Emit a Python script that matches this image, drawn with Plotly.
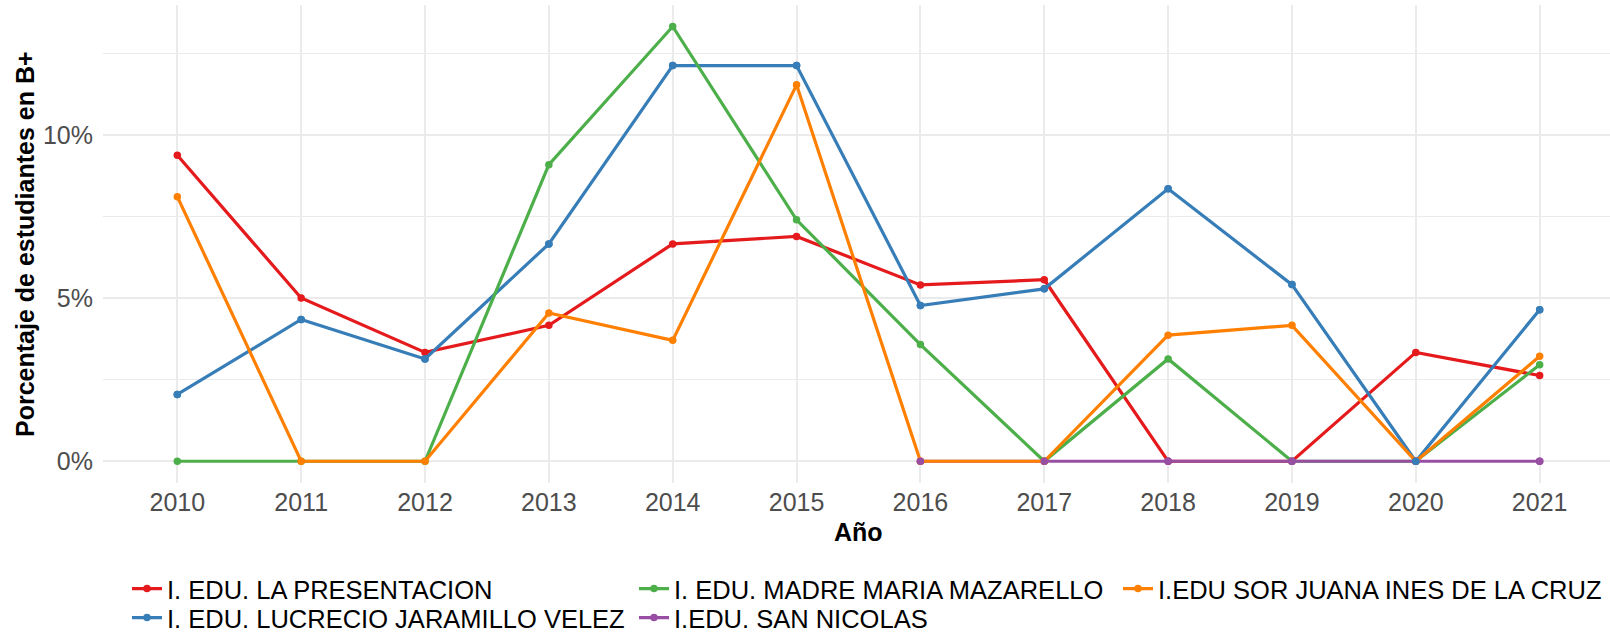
import plotly.graph_objects as go

years = [2010, 2011, 2012, 2013, 2014, 2015, 2016, 2017, 2018, 2019, 2020, 2021]
years_sn = [2016, 2017, 2018, 2019, 2020, 2021]

names = [
    "I. EDU. LA PRESENTACION",
    "I. EDU. LUCRECIO JARAMILLO VELEZ",
    "I. EDU. MADRE MARIA MAZARELLO",
    "I.EDU. SAN NICOLAS",
    "I.EDU SOR JUANA INES DE LA CRUZ",
]
colors = ["#E41A1C", "#377EB8", "#4DAF4A", "#984EA3", "#FF7F00"]

presentacion = [9.39, 5.01, 3.34, 4.17, 6.67, 6.90, 5.41, 5.57, 0, 0, 3.34, 2.63]
lucrecio = [2.05, 4.35, 3.14, 6.67, 12.14, 12.14, 4.78, 5.29, 8.36, 5.42, 0, 4.65]
mazarello = [0, 0, 0, 9.10, 13.34, 7.41, 3.58, 0, 3.14, 0, 0, 2.96]
san_nicolas = [0, 0, 0, 0, 0, 0]
sor_juana = [8.12, 0, 0, 4.55, 3.71, 11.55, 0, 0, 3.87, 4.17, 0, 3.22]

ytick_vals = [0, 5, 10]
ytick_text = ["0%", "5%", "10%"]
yminor_vals = [2.5, 7.5, 12.5]

series = [
    (years, presentacion),
    (years, lucrecio),
    (years, mazarello),
    (years_sn, san_nicolas),
    (years, sor_juana),
]

FONT = "Liberation Sans, Arial, sans-serif"
W, H = 1610, 632
ML, MR, MT, MB = 103, 0, 5, 149
PW, PH = W - ML - MR, H - MT - MB

fig = go.Figure()
legend_ids = ["legend", "legend2", "legend3", "legend4", "legend5"]
for i, ((xs, ys), nm, col) in enumerate(zip(series, names, colors)):
    fig.add_trace(go.Scatter(
        x=xs, y=ys, name=nm, mode="lines+markers",
        line=dict(color=col, width=3.2),
        marker=dict(color=col, size=7.5),
        legend=legend_ids[i],
    ))

# overlay points so the drawing order of dots matches the reference
for idx in [3, 1]:
    xs, ys = series[idx]
    fig.add_trace(go.Scatter(
        x=xs, y=ys, mode="markers", showlegend=False,
        marker=dict(color=colors[idx], size=7.5), hoverinfo="skip",
    ))

# legend placement (pixel coordinates)
leg_pos = [(127, 589), (127, 618), (634, 589), (634, 618), (1118, 589)]
leg_layout = {}
for lid, (px, py) in zip(legend_ids, leg_pos):
    leg_layout[lid] = dict(
        x=px / W, y=1 - py / H, xref="container", yref="container",
        xanchor="left", yanchor="middle", orientation="v",
        font=dict(family=FONT, size=25.5, color="black"),
        bgcolor="rgba(0,0,0,0)", borderwidth=0,
    )

fig.update_layout(
    width=W, height=H,
    margin=dict(l=ML, r=MR, t=MT, b=MB, autoexpand=False),
    paper_bgcolor="white", plot_bgcolor="white",
    font=dict(family=FONT, size=25, color="#4D4D4D"),
    showlegend=True,
    hovermode=False,
    xaxis=dict(
        range=[2009.4, 2021.568],
        tickvals=years, ticktext=[str(y) for y in years],
        showgrid=True, gridcolor="#EBEBEB", gridwidth=2,
        zeroline=False, showline=False, ticks="",
        tickfont=dict(family=FONT, size=25, color="#4D4D4D"),
        ticklabelstandoff=2,
        automargin=False,
    ),
    yaxis=dict(
        range=[-0.667, 14.0],
        tickvals=ytick_vals, ticktext=ytick_text,
        showgrid=True, gridcolor="#EBEBEB", gridwidth=2,
        minor=dict(tickvals=yminor_vals, showgrid=True, gridcolor="#EBEBEB", gridwidth=1, ticks=""),
        zeroline=False, showline=False, ticks="",
        tickfont=dict(family=FONT, size=25, color="#4D4D4D"),
        ticklabelstandoff=9,
        automargin=False,
    ),
    annotations=[
        dict(text="<b>Año</b>", xref="paper", yref="paper",
             x=(858 - ML) / PW, y=(MT + PH - 532) / PH,
             xanchor="center", yanchor="middle", showarrow=False,
             font=dict(family=FONT, size=25, color="black")),
        dict(text="<b>Porcentaje de estudiantes en B+</b>", xref="paper", yref="paper",
             x=(25 - ML) / PW, y=(MT + PH - 244) / PH, textangle=-90,
             xanchor="center", yanchor="middle", showarrow=False,
             font=dict(family=FONT, size=25, color="black")),
    ],
    **leg_layout,
)

fig.write_html(
    "out.html",
    config={"displayModeBar": False},
    post_script="document.body.style.margin='0px';",
)
